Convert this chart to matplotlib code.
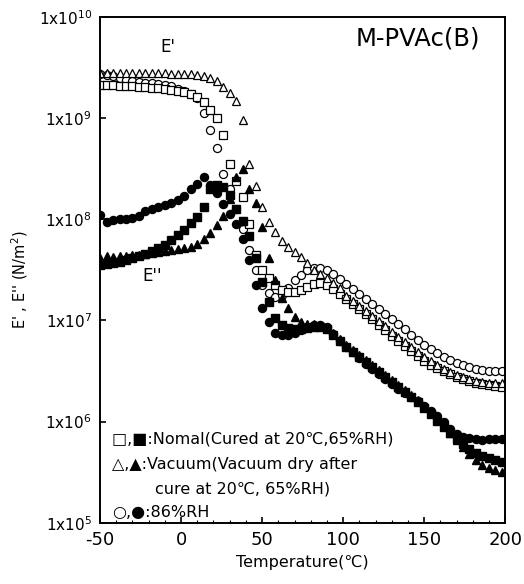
import matplotlib.pyplot as plt
import numpy as np
from matplotlib.ticker import FixedLocator, MultipleLocator, NullLocator

# temperature of the measurement points (deg C)
temp = np.arange(-50, 200, 4)

# log10 of modulus (N/m2)
# E' storage modulus
nomal_e1 = [9.33, 9.33, 9.33, 9.32, 9.32, 9.32, 9.31, 9.31, 9.30, 9.30,
            9.29, 9.28, 9.27, 9.26, 9.24, 9.21, 9.16, 9.08, 9.00, 8.83,
            8.55, 8.38, 8.22, 7.95, 7.65, 7.50, 7.42, 7.35, 7.30, 7.28,
            7.28, 7.30, 7.33, 7.36, 7.37, 7.35, 7.31, 7.26, 7.21, 7.16,
            7.11, 7.06, 7.01, 6.95, 6.90, 6.85, 6.80, 6.75, 6.70, 6.65,
            6.60, 6.56, 6.53, 6.50, 6.47, 6.44, 6.42, 6.40, 6.38, 6.37,
            6.36, 6.35, 6.34]
vacuum_e1 = [9.45, 9.45, 9.45, 9.45, 9.45, 9.45, 9.45, 9.45, 9.45, 9.45,
             9.45, 9.44, 9.44, 9.44, 9.44, 9.43, 9.42, 9.40, 9.37, 9.31,
             9.25, 9.17, 8.98, 8.55, 8.33, 8.12, 7.97, 7.87, 7.78, 7.73,
             7.68, 7.63, 7.57, 7.50, 7.46, 7.42, 7.37, 7.32, 7.24, 7.19,
             7.14, 7.09, 7.04, 6.99, 6.94, 6.89, 6.84, 6.79, 6.74, 6.69,
             6.64, 6.60, 6.56, 6.52, 6.49, 6.46, 6.44, 6.42, 6.40, 6.39,
             6.38, 6.38, 6.38]
rh86_e1 = [9.44, 9.43, 9.42, 9.40, 9.38, 9.37, 9.36, 9.35, 9.35, 9.34,
           9.33, 9.32, 9.29, 9.27, 9.24, 9.20, 9.05, 8.88, 8.70, 8.45,
           8.30, 8.10, 7.90, 7.70, 7.50, 7.35, 7.27, 7.23, 7.25, 7.32,
           7.40, 7.45, 7.50, 7.52, 7.52, 7.50, 7.46, 7.41, 7.36, 7.31,
           7.26, 7.21, 7.16, 7.11, 7.06, 7.01, 6.96, 6.91, 6.86, 6.81,
           6.76, 6.72, 6.68, 6.64, 6.61, 6.58, 6.56, 6.54, 6.52, 6.51,
           6.50, 6.50, 6.50]

# E'' loss modulus
nomal_e2 = [7.55, 7.56, 7.57, 7.58, 7.60, 7.62, 7.64, 7.66, 7.69, 7.72,
            7.75, 7.79, 7.84, 7.89, 7.96, 8.02, 8.12, 8.30, 8.34, 8.32,
            8.24, 8.10, 7.98, 7.83, 7.62, 7.38, 7.18, 7.02, 6.95, 6.92,
            6.91, 6.91, 6.92, 6.93, 6.93, 6.91, 6.86, 6.80, 6.74, 6.69,
            6.64, 6.59, 6.54, 6.49, 6.44, 6.39, 6.34, 6.29, 6.24, 6.19,
            6.13, 6.07, 6.01, 5.95, 5.89, 5.83, 5.78, 5.73, 5.69, 5.66,
            5.64, 5.62, 5.60]
vacuum_e2 = [7.62, 7.64, 7.63, 7.64, 7.64, 7.65, 7.65, 7.66, 7.67, 7.68,
             7.69, 7.70, 7.71, 7.72, 7.73, 7.76, 7.80, 7.86, 7.94, 8.03,
             8.20, 8.42, 8.50, 8.30, 8.16, 7.92, 7.62, 7.40, 7.22, 7.12,
             7.03, 6.98, 6.96, 6.96, 6.95, 6.93, 6.88, 6.82, 6.76, 6.71,
             6.66, 6.61, 6.56, 6.51, 6.46, 6.41, 6.36, 6.31, 6.26, 6.21,
             6.15, 6.09, 6.03, 5.96, 5.89, 5.82, 5.75, 5.68, 5.62, 5.57,
             5.54, 5.52, 5.50]
rh86_e2 = [8.04, 7.97, 7.99, 8.00, 8.00, 8.01, 8.03, 8.08, 8.10, 8.12,
           8.14, 8.16, 8.19, 8.23, 8.30, 8.35, 8.42, 8.34, 8.26, 8.15,
           8.05, 7.95, 7.80, 7.60, 7.35, 7.12, 6.98, 6.88, 6.86, 6.86,
           6.88, 6.90, 6.93, 6.95, 6.95, 6.93, 6.87, 6.80, 6.74, 6.69,
           6.63, 6.57, 6.52, 6.47, 6.42, 6.37, 6.32, 6.28, 6.24, 6.20,
           6.15, 6.10, 6.05, 6.00, 5.93, 5.88, 5.85, 5.84, 5.83, 5.82,
           5.83, 5.83, 5.83]

fig = plt.figure(figsize=(5.24, 5.84), dpi=100)
ax = fig.add_axes([0.191, 0.105, 0.773, 0.866])

ms = 5.8
# open markers: E'
ax.plot(temp, 10 ** np.array(rh86_e1), 'o', ms=ms, mfc='white', mec='black', mew=0.9, ls='none')
ax.plot(temp, 10 ** np.array(nomal_e1), 's', ms=ms, mfc='white', mec='black', mew=0.9, ls='none')
ax.plot(temp, 10 ** np.array(vacuum_e1), '^', ms=ms, mfc='white', mec='black', mew=0.9, ls='none')
# filled markers: E''
ax.plot(temp, 10 ** np.array(vacuum_e2), '^', ms=ms, color='black', ls='none')
ax.plot(temp, 10 ** np.array(nomal_e2), 's', ms=ms, color='black', ls='none')
ax.plot(temp, 10 ** np.array(rh86_e2), 'o', ms=ms, color='black', ls='none')

ax.set_yscale('log')
ax.set_xlim(-50, 200)
ax.set_ylim(1e5, 1e10)

ax.xaxis.set_major_locator(FixedLocator([-50, 0, 50, 100, 150, 200]))
ax.xaxis.set_minor_locator(MultipleLocator(10))
ax.yaxis.set_major_locator(FixedLocator([1e5, 1e6, 1e7, 1e8, 1e9, 1e10]))
ax.yaxis.set_minor_locator(NullLocator())
ax.set_yticklabels(['1x10$^{5}$', '1x10$^{6}$', '1x10$^{7}$', '1x10$^{8}$',
                    '1x10$^{9}$', '1x10$^{10}$'], fontsize=11)
ax.set_xticklabels(['-50', '0', '50', '100', '150', '200'], fontsize=13)
ax.tick_params(which='major', direction='in', length=4, width=1.2, pad=6)
ax.tick_params(which='minor', direction='in', length=2, width=0.8)
for s in ax.spines.values():
    s.set_linewidth(1.4)

ax.set_xlabel('Temperature(\u2103)', fontsize=11.5, labelpad=4)
ax.set_ylabel("E' , E'' (N/m$^{2}$)", fontsize=10.5)
ax.yaxis.set_label_coords(-0.172, 0.48)

ax.text(0.938, 0.958, 'M-PVAc(B)', transform=ax.transAxes, fontsize=17.5,
        ha='right', va='center')
ax.text(0.15, 0.94, "E'", transform=ax.transAxes, fontsize=12, ha='left', va='center')
ax.text(0.105, 0.487, "E''", transform=ax.transAxes, fontsize=12, ha='left', va='center')

leg_kw = dict(transform=ax.transAxes, fontsize=11.5, ha='left', va='center')
ax.text(0.03, 0.165, '\u25a1,\u25a0:Nomal(Cured at 20\u2103,65%RH)', **leg_kw)
ax.text(0.03, 0.115, '\u25b3,\u25b2:Vacuum(Vacuum dry after', **leg_kw)
ax.text(0.135, 0.066, 'cure at 20\u2103, 65%RH)', **leg_kw)
ax.text(0.03, 0.02, '\u25cb,\u25cf:86%RH', **leg_kw)

fig.savefig('out.png', dpi=100)
